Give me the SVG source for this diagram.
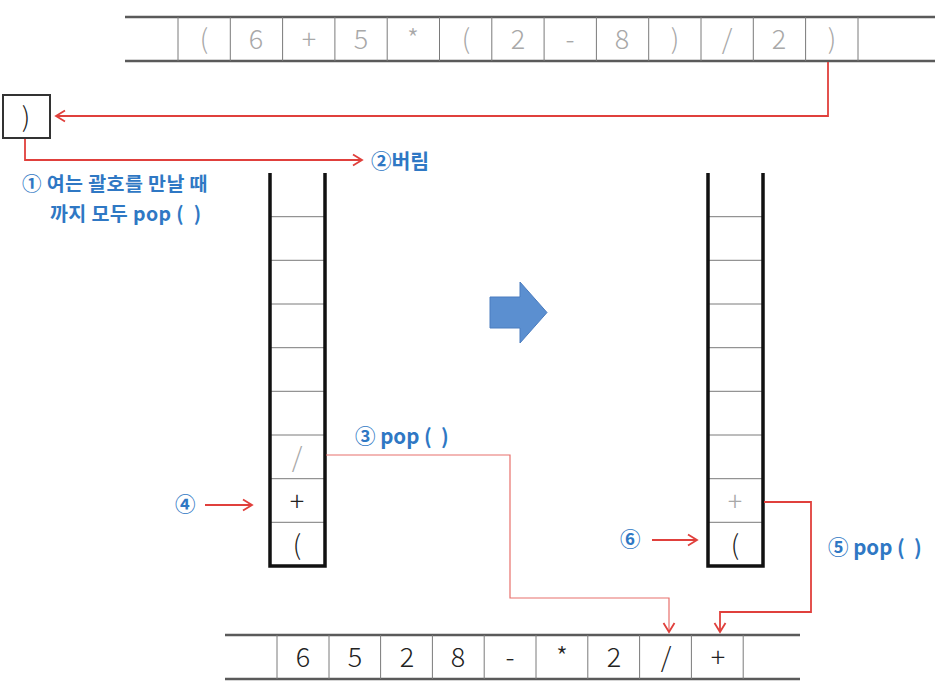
<svg xmlns="http://www.w3.org/2000/svg" width="935" height="687" viewBox="0 0 935 687">
<defs>
<marker id="ah" markerWidth="14" markerHeight="14" refX="11" refY="7" orient="auto" markerUnits="userSpaceOnUse">
<polyline points="2,1.5 11,7 2,12.5" fill="none" stroke="#e0403c" stroke-width="1.8"/>
</marker>
<style>
.rail{stroke:#5a5a5a;stroke-width:2.6;fill:none}
.div{stroke:#7a7a7a;stroke-width:1;fill:none}
.wall{stroke:#111;stroke-width:3.5;fill:none}
.cell{font-family:"Noto Sans CJK KR","DejaVu Sans",sans-serif;font-weight:300;font-size:27px;text-anchor:middle}
.g{fill:#a8a8a8}
.k{fill:#222}
.red{stroke:#e0403c;stroke-width:1.8;fill:none}
.redt{stroke:#e8706c;stroke-width:1.2;fill:none}
.lab{font-family:"Noto Sans CJK KR","Noto Sans",sans-serif;font-weight:700;font-size:20.5px;fill:#2f78c4}
.lab2{font-size:19.5px;letter-spacing:0.4px}
</style>
</defs>
<rect width="935" height="687" fill="#fff"/>

<g id="input-array">
<line class="rail" x1="125" y1="17" x2="937" y2="17"/>
<line class="rail" x1="125" y1="61" x2="937" y2="61"/>
<path class="div" d="M178,17V61M230.3,17V61M282.6,17V61M334.9,17V61M387.2,17V61M439.5,17V61M491.8,17V61M544.1,17V61M596.4,17V61M648.7,17V61M701,17V61M753.3,17V61M805.6,17V61M858,17V61"/>
<g class="cell g">
<text x="204" y="49">(</text>
<text x="256" y="49">6</text>
<text x="309" y="49">+</text>
<text x="361" y="49">5</text>
<text x="413" y="49">*</text>
<text x="466" y="49">(</text>
<text x="518" y="49">2</text>
<text x="570" y="49">-</text>
<text x="622" y="49">8</text>
<text x="675" y="49">)</text>
<text x="727" y="49">/</text>
<text x="779" y="49">2</text>
<text x="832" y="49">)</text>
</g>
</g>

<g id="paren-box">
<rect x="3" y="95" width="47" height="43" fill="#fff" stroke="#333" stroke-width="2"/>
<text class="cell k" x="26" y="127">)</text>
</g>

<g id="left-stack">
<path class="div" d="M271,216.7H324M271,260.3H324M271,304H324M271,347.7H324M271,391.3H324M271,435H324M271,478.7H324M271,522.3H324"/>
<path class="wall" d="M270,173V566H325V173"/>
<text class="cell g" x="297" y="467">/</text>
<text class="cell k" x="297" y="511">+</text>
<text class="cell k" x="297" y="555">(</text>
</g>

<g id="right-stack">
<path class="div" d="M709,216.7H762M709,260.3H762M709,304H762M709,347.7H762M709,391.3H762M709,435H762M709,478.7H762M709,522.3H762"/>
<path class="wall" d="M708,173V566H763V173"/>
<text class="cell g" x="735" y="511">+</text>
<text class="cell k" x="735" y="555">(</text>
</g>

<g id="output-array">
<line class="rail" x1="225" y1="635" x2="800" y2="635"/>
<line class="rail" x1="225" y1="679" x2="800" y2="679"/>
<path class="div" d="M277,635V679M329,635V679M380.6,635V679M432.4,635V679M484.2,635V679M536,635V679M587.8,635V679M639.6,635V679M691.4,635V679M743.2,635V679"/>
<g class="cell k">
<text x="303" y="667">6</text>
<text x="355" y="667">5</text>
<text x="407" y="667">2</text>
<text x="458" y="667">8</text>
<text x="510" y="667">-</text>
<text x="562" y="667">*</text>
<text x="614" y="667">2</text>
<text x="666" y="667">/</text>
<text x="718" y="667">+</text>
</g>
</g>

<g id="big-arrow">
<path d="M490,297H520V282L547,312.5L520,343V328H490Z" fill="#5b8fd0" stroke="#4a7cbf" stroke-width="1"/>
</g>

<g id="connectors">
<path class="red" d="M828,62V116H56" marker-end="url(#ah)"/>
<path class="red" d="M25,139V160H362" marker-end="url(#ah)"/>
<path class="redt" d="M326,455H510V598H669V632" marker-end="url(#ah)"/>
<path class="red" d="M764,502H811V612H720V632" marker-end="url(#ah)"/>
<path class="red" d="M205,505H252" marker-end="url(#ah)"/>
<path class="red" d="M652,540H697" marker-end="url(#ah)"/>
</g>

<g id="labels">
<text class="lab" x="371" y="169">②버림</text>
<text class="lab lab2" x="22" y="191">① 여는 괄호를 만날 때</text>
<text class="lab lab2" x="50" y="221" xml:space="preserve">까지 모두 pop (  )</text>
<text class="lab" x="355" y="444" xml:space="preserve">③ pop (  )</text>
<text class="lab" x="175" y="512">④</text>
<text class="lab" x="620" y="547">⑥</text>
<text class="lab" x="828" y="555" xml:space="preserve">⑤ pop (  )</text>
</g>
</svg>
